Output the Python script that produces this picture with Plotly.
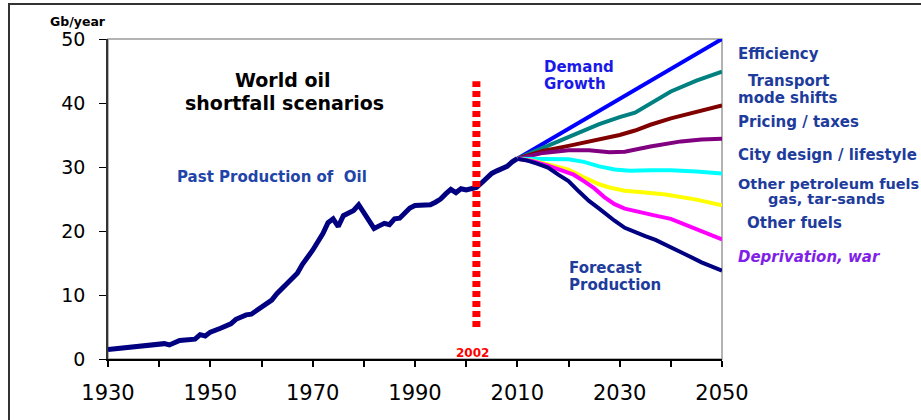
import plotly.graph_objects as go

# ---------------- data ----------------
past_years = [1930, 1935, 1938, 1941, 1942, 1944, 1947, 1948, 1949, 1950, 1952, 1954, 1955,
              1957, 1958, 1960, 1962, 1963, 1965, 1967, 1968, 1970, 1972, 1973, 1974, 1975,
              1976, 1978, 1979, 1980, 1981, 1982, 1983, 1984, 1985, 1986, 1987, 1988, 1989,
              1990, 1992, 1993, 1994, 1995, 1996, 1997, 1998, 1999, 2000, 2001, 2002, 2003,
              2004, 2005, 2006, 2007, 2008, 2009, 2010]
past_values = [1.5, 1.9, 2.2, 2.4, 2.2, 2.9, 3.1, 3.8, 3.6, 4.2, 4.8, 5.5, 6.2,
               6.9, 7.0, 8.0, 9.2, 10.2, 11.8, 13.4, 14.8, 17.0, 19.6, 21.3, 21.9, 20.7,
               22.4, 23.2, 24.1, 22.8, 21.5, 20.4, 20.8, 21.2, 21.0, 21.9, 22.0, 22.9, 23.6,
               24.0, 24.0, 24.1, 24.5, 25.0, 25.8, 26.5, 26.0, 26.6, 26.4, 26.6, 26.8, 27.5,
               28.2, 29.0, 29.4, 29.8, 30.1, 30.8, 31.3]

demand_years = [2010, 2020, 2030, 2040, 2050]
demand_values = [31.3, 36.0, 40.6, 45.3, 50.0]

transport_years = [2010, 2015, 2020, 2026, 2030, 2033, 2040, 2045, 2050]
transport_values = [31.3, 33.0, 34.7, 36.7, 37.8, 38.5, 41.8, 43.5, 44.9]

pricing_years = [2010, 2015, 2020, 2025, 2028, 2030, 2033, 2036, 2040, 2045, 2050]
pricing_values = [31.3, 32.5, 33.3, 34.2, 34.6, 35.0, 35.7, 36.6, 37.6, 38.6, 39.6]

city_years = [2010, 2015, 2020, 2024, 2028, 2031, 2036, 2042, 2046, 2050]
city_values = [31.3, 32.2, 32.6, 32.6, 32.3, 32.4, 33.2, 34.0, 34.3, 34.4]

petro_years = [2010, 2015, 2020, 2023, 2026, 2029, 2032, 2036, 2040, 2045, 2050]
petro_values = [31.3, 31.3, 31.2, 30.8, 30.1, 29.6, 29.4, 29.5, 29.5, 29.3, 29.0]

fuels_years = [2010, 2013, 2016, 2020, 2023, 2026, 2028, 2031, 2035, 2039, 2045, 2050]
fuels_values = [31.3, 31.0, 30.4, 29.6, 28.4, 27.3, 26.8, 26.3, 26.0, 25.7, 24.9, 24.0]

depriv_years = [2010, 2013, 2016, 2019, 2021, 2023, 2025, 2027, 2029, 2031, 2034, 2037, 2040, 2045, 2050]
depriv_values = [31.3, 30.9, 30.2, 29.4, 28.8, 27.8, 26.7, 25.3, 24.2, 23.5, 22.9, 22.4, 21.9, 20.3, 18.7]

forecast_years = [2010, 2012, 2014, 2016, 2018, 2020, 2022, 2024, 2026, 2028, 2029, 2031, 2033,
                  2035, 2037, 2040, 2043, 2046, 2048, 2050]
forecast_values = [31.3, 31.0, 30.5, 29.9, 28.8, 27.8, 26.2, 24.7, 23.5, 22.2, 21.6, 20.5, 19.8,
                   19.2, 18.6, 17.5, 16.3, 15.1, 14.5, 13.8]

marker_year = 2002
marker_range = [5.0, 43.4]

x_range = [1930, 2050]
y_range = [0, 50]

# ---------------- layout helpers ----------------
W, H = 921, 420
PL, PR, PT, PB = 108, 722, 39, 359


def pxx(x):
    return (x - PL) / (PR - PL)


def pyy(y):
    return (PB - y) / (PB - PT)


FONT = "DejaVu Sans"
LBL = "#1E3C9C"

fig = go.Figure()

scen = [
    (demand_years, demand_values, "#0000FF"),
    (transport_years, transport_values, "#008080"),
    (pricing_years, pricing_values, "#800000"),
    (city_years, city_values, "#800080"),
    (petro_years, petro_values, "#00FFFF"),
    (fuels_years, fuels_values, "#FFFF00"),
    (depriv_years, depriv_values, "#FF00FF"),
]
for xs, ys, c in scen:
    fig.add_trace(go.Scatter(x=xs, y=ys, mode="lines", line=dict(color=c, width=4),
                             hoverinfo="skip", showlegend=False))

fig.add_trace(go.Scatter(x=forecast_years, y=forecast_values, mode="lines",
                         line=dict(color="#000080", width=4), showlegend=False))
fig.add_trace(go.Scatter(x=past_years, y=past_values, mode="lines",
                         line=dict(color="#000080", width=5), showlegend=False))

shapes = [
    # plot frame (grey top/right)
    dict(type="rect", xref="paper", yref="paper", x0=0, x1=1, y0=0, y1=1,
         line=dict(color="#9a9a9a", width=1.5), layer="below"),
    # outer frame
    dict(type="rect", xref="paper", yref="paper", x0=pxx(9), x1=pxx(940),
         y0=pyy(440), y1=pyy(4), line=dict(color="#333333", width=2), layer="below"),
    # 2002 marker
    dict(type="line", xref="x", yref="y", x0=marker_year, x1=marker_year,
         y0=marker_range[0], y1=marker_range[1],
         line=dict(color="#FF0000", width=8, dash="6px,4px"), layer="above"),
]

ann = []


def add_text(text, x, y, size=15, color=LBL, anchor="left", italic=False, bold=True):
    ann.append(dict(text=text, xref="paper", yref="paper", x=pxx(x), y=pyy(y),
                    xanchor=anchor, yanchor="middle", showarrow=False,
                    font=dict(family=FONT, size=size, color=color,
                              weight="bold" if bold else "normal",
                              style="italic" if italic else "normal")))


add_text("Gb/year", 78, 22, size=12.5, color="#000000", anchor="center")
add_text("World oil", 283, 80, size=19, color="#000000", anchor="center")
add_text("shortfall scenarios", 284, 103, size=19, color="#000000", anchor="center")
add_text("Past Production of  Oil", 272, 177, size=15, color="#1F45A8", anchor="center")
add_text("Demand", 542, 67, size=15, color="#1A1AE8")
add_text("Growth", 542, 84, size=15, color="#1A1AE8")
add_text("Forecast", 567, 268, size=15)
add_text("Production", 567, 285, size=15)
add_text("Efficiency", 736, 54)
add_text("Transport", 746, 81)
add_text("mode shifts", 736, 98)
add_text("Pricing / taxes", 736, 122)
add_text("City design / lifestyle", 736, 155)
add_text("Other petroleum fuels", 736, 184, size=14.5)
add_text("gas, tar-sands", 766, 199, size=14.5)
add_text("Other fuels", 745, 223)
add_text("Deprivation, war", 736, 257, color="#7F1FE8", italic=True)
add_text("2002", 472, 353, size=12, color="#FF0000", anchor="center")

fig.update_layout(
    width=W, height=H,
    margin=dict(l=PL, r=W - PR, t=PT, b=H - PB, pad=0),
    paper_bgcolor="white", plot_bgcolor="white",
    showlegend=False,
    shapes=shapes,
    annotations=ann,
    xaxis=dict(range=x_range, tickmode="linear", tick0=1930, dtick=20,
               ticks="outside", ticklen=6, tickwidth=1.5, tickcolor="#000",
               minor=dict(ticks="outside", dtick=10, tick0=1930, ticklen=6,
                          tickwidth=1.5, tickcolor="#000"),
               showline=True, linecolor="#000", linewidth=1.5,
               showgrid=False, zeroline=False, ticklabelstandoff=8,
               tickfont=dict(family=FONT, size=21, color="#000")),
    xaxis2=dict(range=x_range, overlaying="x", anchor="y", side="bottom",
                tickmode="linear", tick0=1930, dtick=20,
                ticks="inside", ticklen=7, tickwidth=1.5, tickcolor="#000",
                showticklabels=False, showline=False, showgrid=False, zeroline=False),
    yaxis=dict(range=y_range, tickmode="linear", tick0=0, dtick=10,
               ticks="outside", ticklen=7, tickwidth=1, tickcolor="#000",
               showline=True, linecolor="#333", linewidth=1.5,
               showgrid=False, zeroline=False, ticklabelstandoff=10,
               tickfont=dict(family=FONT, size=19, color="#000")),
)

fig.write_html("out.html", config={"displayModeBar": False},
               post_script="document.body.style.margin='0';document.body.style.overflow='hidden';")
